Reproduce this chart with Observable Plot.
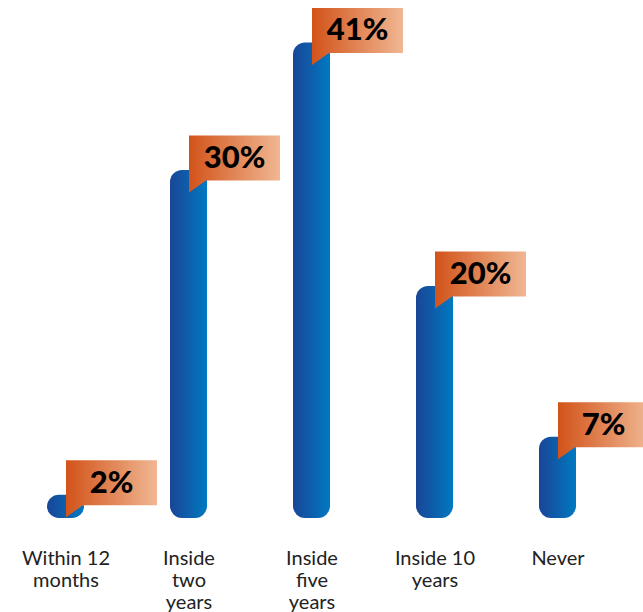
<!DOCTYPE html>
<html>
<head>
<meta charset="utf-8">
<script src="https://cdn.jsdelivr.net/npm/d3@7"></script>
<script src="https://cdn.jsdelivr.net/npm/@observablehq/plot@0.6"></script>
<style>
  html, body { margin: 0; padding: 0; background: #fff; overflow: hidden; }
  #chart { width: 643px; height: 612px; overflow: hidden; }
</style>
</head>
<body>
<div id="chart"></div>
<script>
const categories = ["Within 12 months", "Inside two years", "Inside five years", "Inside 10 years", "Never"];
const values = [2, 30, 41, 20, 7];
const tickLabels = ["Within 12\nmonths", "Inside\ntwo\nyears", "Inside\nfive\nyears", "Inside 10\nyears", "Never"];

const data = categories.map((c, i) => ({category: c, value: values[i], label: tickLabels[i]}));

// callout shape (box + tail), drawn relative to the bar top
const callout = {
  draw(ctx) {
    ctx.moveTo(0, -35);
    ctx.lineTo(91, -35);
    ctx.lineTo(91, 10);
    ctx.lineTo(17, 10);
    ctx.lineTo(0, 22);
    ctx.closePath();
  }
};

const svg = Plot.plot({
  width: 643,
  height: 612,
  x: {domain: categories, range: [20.25, 601.9], paddingInner: 0.7, paddingOuter: 0.2, axis: null},
  y: {domain: [0, 44], range: [518, 7.6], axis: null},
  style: {background: "#fff", overflow: "hidden"},
  marks: [
    Plot.barY(data, {x: "category", y: "value", fill: "url(#barGrad)", rx: 12}),
    Plot.dot(data, {x: "category", y: "value", symbol: callout, r: 1, fill: "url(#calloutGrad)", stroke: null}),
    Plot.text(data, {
      x: "category", y: "value", text: d => d.value + "%",
      dx: 45.5, dy: -12.5, fontSize: 31, fontWeight: 900,
      fontFamily: "Lato, sans-serif", fill: "#000", textAnchor: "middle"
    }),
    Plot.text(data, {
      x: "category", y: () => 0, text: "label",
      dy: 31, lineAnchor: "top", lineHeight: 1.1, fontSize: 20,
      fontFamily: "Lato, sans-serif", fill: "#222", textAnchor: "middle"
    })
  ]
});

const defs = d3.select(svg).insert("defs", ":first-child");
const bg = defs.append("linearGradient").attr("id", "barGrad").attr("x1", 0).attr("x2", 1).attr("y1", 0).attr("y2", 0);
bg.append("stop").attr("offset", "0%").attr("stop-color", "#1a4597");
bg.append("stop").attr("offset", "100%").attr("stop-color", "#0079c1");
const cg = defs.append("linearGradient").attr("id", "calloutGrad").attr("x1", 0).attr("x2", 1).attr("y1", 0).attr("y2", 0);
cg.append("stop").attr("offset", "0%").attr("stop-color", "#d2531a");
cg.append("stop").attr("offset", "100%").attr("stop-color", "#f0b792");

document.getElementById("chart").append(svg);
</script>
</body>
</html>
